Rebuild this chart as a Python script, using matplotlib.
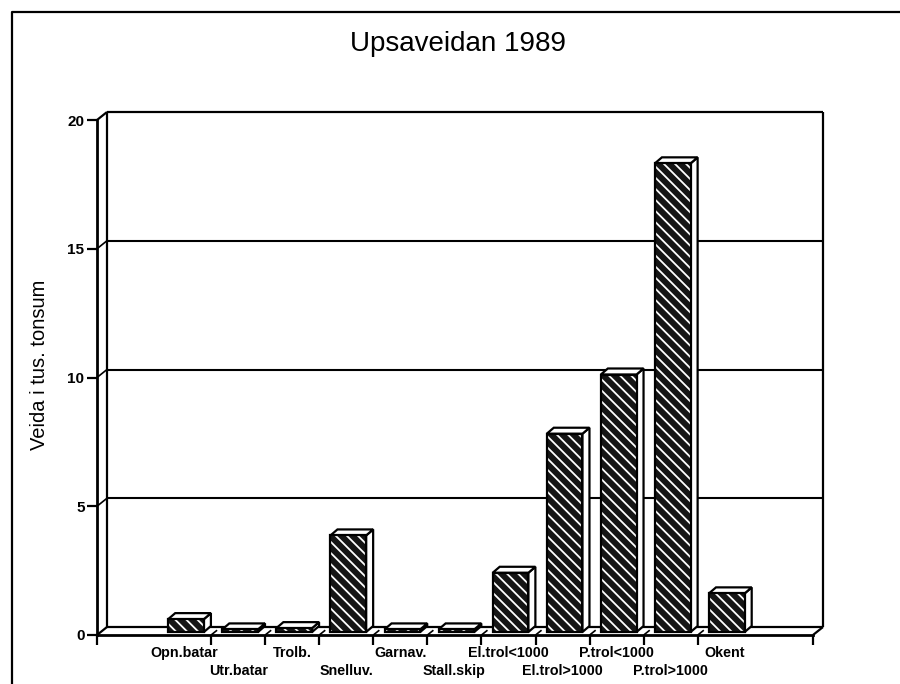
import matplotlib
matplotlib.use('Agg')
import matplotlib.pyplot as plt
from matplotlib.patches import Polygon, Rectangle
from matplotlib.lines import Line2D
from matplotlib.transforms import offset_copy

# ---- data ----
categories = ['Opn.batar', 'Utr.batar', 'Trolb.', 'Snelluv.', 'Garnav.', 'Stall.skip',
              'El.trol<1000', 'El.trol>1000', 'P.trol<1000', 'P.trol>1000', 'Okent']
values = [0.5, 0.1, 0.15, 3.75, 0.1, 0.1, 2.3, 7.7, 10.0, 18.2, 1.5]
yticks = [0, 5, 10, 15, 20]
title = 'Upsaveidan 1989'
ylabel = 'Veida i tus. tonsum'

plt.rcParams['font.family'] = ['Liberation Sans', 'DejaVu Sans']
plt.rcParams['hatch.linewidth'] = 1.3

W, H = 900, 684
fig = plt.figure(figsize=(W / 100, H / 100), dpi=100)
xmin, xmax = -1.61, 11.63
ymin, ymax = 0, 20
axl, axb = 97 / W, (H - 635) / H
axw, axh = (813 - 97) / W, (635 - 120) / H
ax = fig.add_axes([axl, axb, axw, axh])
ax.set_xlim(xmin, xmax)
ax.set_ylim(ymin, ymax)

# pixel -> data units
ux = (xmax - xmin) / (axw * W)
uy = (ymax - ymin) / (axh * H)
WDX, WDY = 10 * ux, 8 * uy     # wall depth
FX, FY = 2 * ux, 3 * uy        # bar front position in depth
BDX, BDY = 7 * ux, 6 * uy      # bar depth
bw = 0.66
LW = 1.6

for s in ['top', 'right']:
    ax.spines[s].set_visible(False)
ax.spines['left'].set_linewidth(2.0)
ax.spines['bottom'].set_linewidth(2.0)
ax.patch.set_alpha(0)

# y ticks
ax.set_yticks(yticks)
ax.set_yticklabels([str(t) for t in yticks], fontsize=11, fontweight='bold')
ax.tick_params(axis='y', direction='out', length=7, width=1.6, pad=2)

# x: boundary marks as ticks, category labels staggered as texts
pos = list(range(len(categories)))
bounds = [p + 0.5 for p in pos[:-1]] + [xmin, xmax]
ax.set_xticks(bounds)
ax.set_xticklabels([])
ax.tick_params(axis='x', direction='out', length=7, width=1.6)
for i, c in enumerate(categories):
    dy = -18 if i % 2 == 0 else -36
    tr = offset_copy(ax.get_xaxis_transform(), fig=fig, x=0, y=dy, units='dots')
    ax.text(i, 0, c, transform=tr, ha='center', va='center', fontsize=10.3,
            fontweight='bold', clip_on=False)

# back wall frame
def L(xs, ys, lw=LW, z=1):
    ax.add_line(Line2D(xs, ys, color='black', lw=lw, clip_on=False, zorder=z,
                       solid_capstyle='butt'))

L([xmin + WDX, xmin + WDX], [WDY, ymax + WDY])
L([xmin + WDX, xmax + WDX], [ymax + WDY, ymax + WDY])
L([xmax + WDX, xmax + WDX], [WDY, ymax + WDY])
L([xmin + WDX, xmax + WDX], [WDY, WDY])
L([xmin, xmin + WDX], [ymax, ymax + WDY])
L([xmin, xmin + WDX], [0, WDY])
L([xmax, xmax + WDX], [0, WDY])
for g in yticks[1:-1]:
    L([xmin + WDX, xmax + WDX], [g + WDY, g + WDY], lw=1.5)
    L([xmin, xmin + WDX], [g, g + WDY], lw=1.2)
for b in bounds[:-2]:
    L([b, b + WDX * 0.6], [0, WDY * 0.6], lw=1.2)

# bars
for i, v in enumerate(values):
    x0 = i - bw / 2 + FX
    x1 = x0 + bw
    y0 = FY
    y1 = FY + v
    side = Polygon([(x1, y0), (x1 + BDX, y0 + BDY), (x1 + BDX, y1 + BDY), (x1, y1)],
                   closed=True, facecolor='white', edgecolor='black', lw=LW,
                   clip_on=False, zorder=3)
    ax.add_patch(side)
    top = Polygon([(x0, y1), (x0 + BDX, y1 + BDY), (x1 + BDX, y1 + BDY), (x1, y1)],
                  closed=True, facecolor='white', edgecolor='black', lw=LW,
                  clip_on=False, zorder=3)
    ax.add_patch(top)
    face = Rectangle((x0, y0), bw, v, facecolor='#151515', edgecolor='white',
                     hatch='\\\\\\', lw=0, clip_on=False, zorder=4)
    ax.add_patch(face)
    outline = Rectangle((x0, y0), bw, v, facecolor='none', edgecolor='black',
                        lw=LW, clip_on=False, zorder=5)
    ax.add_patch(outline)

# texts
fig.text(458 / W, 1 - 44 / H, title, ha='center', va='center', fontsize=20)
fig.text(40 / W, 1 - 365 / H, ylabel, ha='center', va='center', rotation=90, fontsize=14.5)

# outer frame
fig.add_artist(Line2D([12 / W, 12 / W, 1.0], [0.0, 1 - 12 / H, 1 - 12 / H],
                      transform=fig.transFigure, color='black', lw=1.6))

fig.savefig('out.png', dpi=100)
